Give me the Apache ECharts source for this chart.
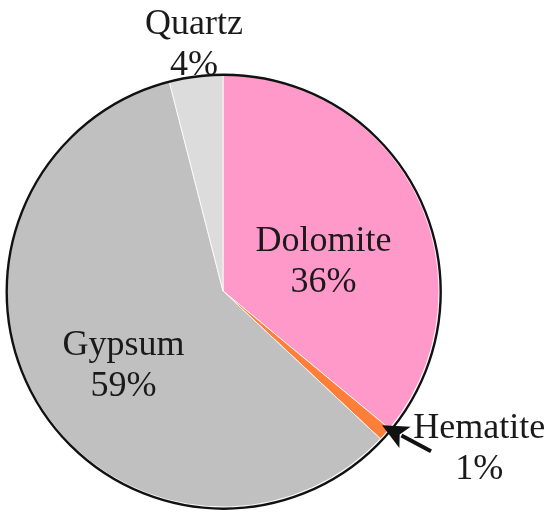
<!DOCTYPE html>
<html>
<head>
<meta charset="utf-8">
<script src="https://cdn.jsdelivr.net/npm/echarts@6/dist/echarts.min.js"></script>
<style>html,body{margin:0;padding:0;background:#fff}#c{width:550px;height:517px}</style>
</head>
<body>
<div id="c"></div>
<script>
var categories = ['Dolomite', 'Hematite', 'Gypsum', 'Quartz'];
var values = [36, 1, 59, 4];
var colors = ['#FF99C9', '#FF7F3A', '#C0C0C0', '#DCDCDC'];
var labelShift = [[0, 18], [173, 85], [-4, 19], [-15, -136]];

var cx = 223, cy = 291, R = 216;
var chart = echarts.init(document.getElementById('c'));

// arrow pointing at the Hematite slice (computed from data)
var total = values.reduce(function (a, b) { return a + b; }, 0);
var before = values[0];
var midA = (before + values[1] / 2) / total * 2 * Math.PI;
var tipX = cx + (R - 4) * Math.sin(midA), tipY = cy - (R - 4) * Math.cos(midA) - 6;
var tailX = tipX + 49, tailY = tipY + 26;
var ang = Math.atan2(tipY - tailY, tipX - tailX);
var hl = 26, hw = 12;
var bx = tipX - hl * Math.cos(ang), by = tipY - hl * Math.sin(ang);
var px = -Math.sin(ang), py = Math.cos(ang);

chart.setOption({
  backgroundColor: '#fff',
  animation: false,
  graphic: [
    { type: 'circle', z: 100, silent: true, shape: { cx: cx + 0.7, cy: cy + 0.7, r: R + 1 }, style: { fill: null, stroke: '#111', lineWidth: 2.4 } },
    { type: 'line', z: 100, silent: true, shape: { x1: tailX, y1: tailY, x2: bx + 4 * Math.cos(ang), y2: by + 4 * Math.sin(ang) }, style: { stroke: '#111', lineWidth: 4 } },
    { type: 'polygon', z: 100, silent: true, shape: { points: [[tipX, tipY], [bx + px * hw, by + py * hw], [bx + 6 * Math.cos(ang), by + 6 * Math.sin(ang)], [bx - px * hw, by - py * hw]] }, style: { fill: '#111' } }
  ],
  series: [{
    type: 'pie',
    center: [cx, cy],
    radius: [0, R],
    startAngle: 90,
    clockwise: true,
    silent: true,
    avoidLabelOverlap: false,
    data: categories.map(function (c, i) {
      return { name: c, value: values[i], itemStyle: { color: colors[i] } };
    }),
    itemStyle: { borderColor: '#fff', borderWidth: 0.8 },
    label: {
      show: true,
      position: 'inside',
      formatter: function (p) { return p.name + '\n' + p.value + '%'; },
      fontFamily: 'Liberation Serif',
      fontSize: 36,
      lineHeight: 41,
      color: '#1a1a1a',
      align: 'center'
    },
    labelLine: { show: false },
    labelLayout: function (p) {
      var s = labelShift[p.dataIndex];
      return { dx: s[0], dy: s[1] };
    }
  }]
});
</script>
</body>
</html>
